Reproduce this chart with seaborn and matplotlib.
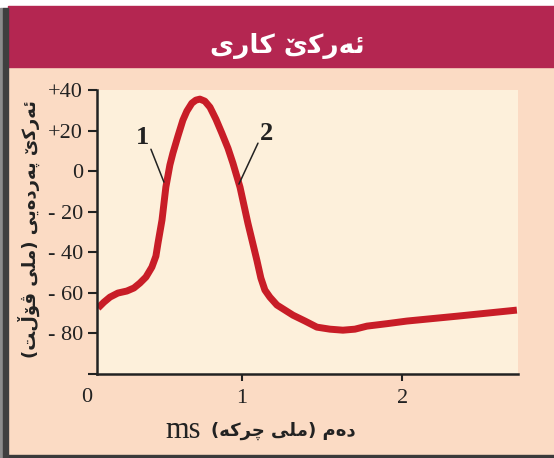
import numpy as np
import pandas as pd
import seaborn as sns
import matplotlib.pyplot as plt
from matplotlib import font_manager
from matplotlib.ft2font import FT2Font
from matplotlib.patches import Rectangle

# data (time in ms, membrane potential in mV)
time_ms = [0.103, 0.140, 0.178, 0.227, 0.283, 0.327, 0.364, 0.402, 0.439, 0.464,
           0.477, 0.502, 0.526, 0.551, 0.570, 0.601, 0.632, 0.657, 0.688, 0.713,
           0.738, 0.769, 0.801, 0.838, 0.875, 0.913, 0.944, 0.988, 1.037, 1.093,
           1.118, 1.143, 1.174, 1.218, 1.268, 1.318, 1.393, 1.467, 1.548, 1.629,
           1.704, 1.779, 1.903, 2.028, 2.184, 2.340, 2.526, 2.713]
potential_mv = [-67.5, -64.6, -62.1, -60.1, -59.1, -57.6, -55.2, -52.2, -47.3, -41.9,
                -35.5, -24.1, -7.9, 3.0, 8.9, 17.2, 25.1, 29.6, 33.5, 35.0,
                35.5, 34.5, 31.5, 25.6, 18.7, 11.3, 3.9, -7.9, -25.6, -43.9,
                -52.7, -58.6, -62.1, -66.0, -68.5, -71.0, -73.9, -76.9, -77.9, -78.4,
                -77.9, -76.4, -75.2, -73.9, -72.7, -71.5, -70.0, -68.5]

ytick_vals = [-100, -80, -60, -40, -20, 0, 20, 40]
ytick_text = ['', '- 80', '- 60', '- 40', '- 20', '0', '+20', '+40']
xtick_vals = [1, 2]
xtick_text = ['1', '2']

title_text = 'ئەرکێ کاری'
ylabel_text = 'ئەرکێ پەردەیی (ملی ڤۆڵت)'
xlabel_text = 'دەم (ملی چرکە)'
xunit_text = 'ms'

# matplotlib does no arabic shaping, so pick presentation forms by hand
FORMS = {
    '\u0626': ('\uFE89', '\uFE8A', '\uFE8B', '\uFE8C'),
    '\u0627': ('\uFE8D', '\uFE8E', None, None),
    '\u062A': ('\uFE95', '\uFE96', '\uFE97', '\uFE98'),
    '\u062F': ('\uFEA9', '\uFEAA', None, None),
    '\u0631': ('\uFEAD', '\uFEAE', None, None),
    '\u0644': ('\uFEDD', '\uFEDE', '\uFEDF', '\uFEE0'),
    '\u0645': ('\uFEE1', '\uFEE2', '\uFEE3', '\uFEE4'),
    '\u0647': ('\uFEE9', '\uFEEA', '\uFEEB', '\uFEEC'),
    '\u067E': ('\uFB56', '\uFB57', '\uFB58', '\uFB59'),
    '\u0686': ('\uFB7A', '\uFB7B', '\uFB7C', '\uFB7D'),
    '\u06A4': ('\uFB6A', '\uFB6B', '\uFB6C', '\uFB6D'),
    '\u06A9': ('\uFB8E', '\uFB8F', '\uFB90', '\uFB91'),
    '\u06C6': ('\uFBD9', '\uFBDA', None, None),
    '\u06CC': ('\uFBFC', '\uFBFD', '\uFBFE', '\uFBFF'),
    '\u06D5': ('\uFEE9', '\uFEEA', None, None),
}
# letters with a small v: no presentation forms exist, keep the plain letter
VLETTERS = {'\u06CE': '\u06CC', '\u06B5': '\u0644'}
MIRROR = {'(': ')', ')': '('}

bold_path = font_manager.findfont(font_manager.FontProperties(family='DejaVu Sans', weight='bold'))
ft_bold = FT2Font(bold_path)


def has_glyph(ch):
    return ft_bold.get_char_index(ord(ch)) != 0


def is_dual(c):
    b = VLETTERS.get(c, c)
    return b in FORMS and FORMS[b][2] is not None


def joins(c):
    return VLETTERS.get(c, c) in FORMS


def shape(s):
    out = []
    for i, c in enumerate(s):
        base = VLETTERS.get(c, c)
        if base not in FORMS:
            out.append(MIRROR.get(c, c))
            continue
        if c in VLETTERS:
            out.append(c)
            continue
        prev = s[i - 1] if i > 0 else None
        nxt = s[i + 1] if i + 1 < len(s) else None
        jp = prev is not None and is_dual(prev)
        jn = is_dual(c) and nxt is not None and joins(nxt)
        iso, fin, ini, med = FORMS[base]
        out.append(med if (jp and jn) else fin if jp else ini if jn else iso)
    return ''.join(reversed(out))


def ar_weight(s):
    return 'bold' if all(has_glyph(ch) or ch == ' ' for ch in s) else 'normal'


RED = '#C81D27'
MAGENTA = '#B42651'
PEACH = '#FBDBC4'
CREAM = '#FDF0DB'
INK = '#222222'

sns.set_style('ticks')
plt.rcParams['font.family'] = ['Liberation Serif', 'DejaVu Sans']

fig = plt.figure(figsize=(5.54, 4.58), dpi=100)
fig.patch.set_facecolor('white')
W, H = 554.0, 458.0


def frect(x0, y0, x1, y1, color):
    fig.patches.append(Rectangle((x0 / W, 1 - y1 / H), (x1 - x0) / W, (y1 - y0) / H,
                                 transform=fig.transFigure, color=color, zorder=-5))


frect(8, 67, 554, 455, PEACH)
frect(8, 6, 554, 67, MAGENTA)
frect(0, 455, 554, 458, '#3a3a3a')
frect(0, 8, 3, 458, '#8c8c8c')
frect(3, 8, 8, 458, '#3f3f3f')

ax = fig.add_axes([97 / W, 1 - 374 / H, 421 / W, 284 / H])
ax.set_zorder(2)
ax.set_facecolor(CREAM)

df = pd.DataFrame({'t': time_ms, 'v': potential_mv})
sns.lineplot(data=df, x='t', y='v', sort=False, estimator=None, color=RED,
             linewidth=5, solid_capstyle='butt', solid_joinstyle='round', ax=ax)

ax.set_xlim(0.097, 2.72)
ax.set_ylim(-100, 40)
ax.set_yticks(ytick_vals)
ax.set_yticklabels(ytick_text, family='Liberation Serif', fontsize=16)
ax.set_xticks(xtick_vals)
ax.set_xticklabels(xtick_text, family='Liberation Serif', fontsize=16)
ax.tick_params(axis='y', length=6.5, width=1.5, pad=3.5, colors=INK)
ax.tick_params(axis='x', length=5, width=1.5, pad=6, colors=INK)
ax.set_xlabel('')
ax.set_ylabel('')
for side in ['top', 'right']:
    ax.spines[side].set_visible(False)
for side in ['left', 'bottom']:
    ax.spines[side].set_linewidth(1.8)
    ax.spines[side].set_color(INK)

# the "0" sits a little left of the y axis
ax.text(0.034, -0.081, '0', transform=ax.get_xaxis_transform(), ha='center',
        va='center', fontsize=16, family='Liberation Serif', color=INK,
        clip_on=False)

# leader lines for phases 1 and 2
ax.annotate('', xy=(0.514, -5.4), xytext=(0.433, 10.8),
            arrowprops=dict(arrowstyle='-', lw=1.1, color=INK, shrinkA=0, shrinkB=0))
ax.annotate('', xy=(0.981, -6.4), xytext=(1.100, 13.8),
            arrowprops=dict(arrowstyle='-', lw=1.1, color=INK, shrinkA=0, shrinkB=0))
ax.text(0.383, 16.7, '1', ha='center', va='center', fontsize=19,
        fontweight='bold', family='Liberation Serif', color=INK)
ax.text(1.156, 18.7, '2', ha='center', va='center', fontsize=19,
        fontweight='bold', family='Liberation Serif', color=INK)

# title bar text
t = shape(title_text)
fig.text(287 / W, 1 - 46 / H, t, ha='center', va='center', color='white',
         fontsize=19, fontweight=ar_weight(t), family='DejaVu Sans')

# y label
t = shape(ylabel_text)
fig.text(29 / W, 1 - 229 / H, t, ha='center', va='center', rotation=90,
         fontsize=13, fontweight=ar_weight(t), family='DejaVu Sans', color=INK)

# x label: latin unit on the left, kurdish words on the right
fig.text(201 / W, 1 - 430 / H, xunit_text, ha='right', va='center', fontsize=22,
         family='Liberation Serif', color=INK)
t = shape(xlabel_text)
fig.text(211 / W, 1 - 431 / H, t, ha='left', va='center', fontsize=13,
         fontweight=ar_weight(t), family='DejaVu Sans', color=INK)

plt.savefig('out.png', dpi=100)
plt.close()
